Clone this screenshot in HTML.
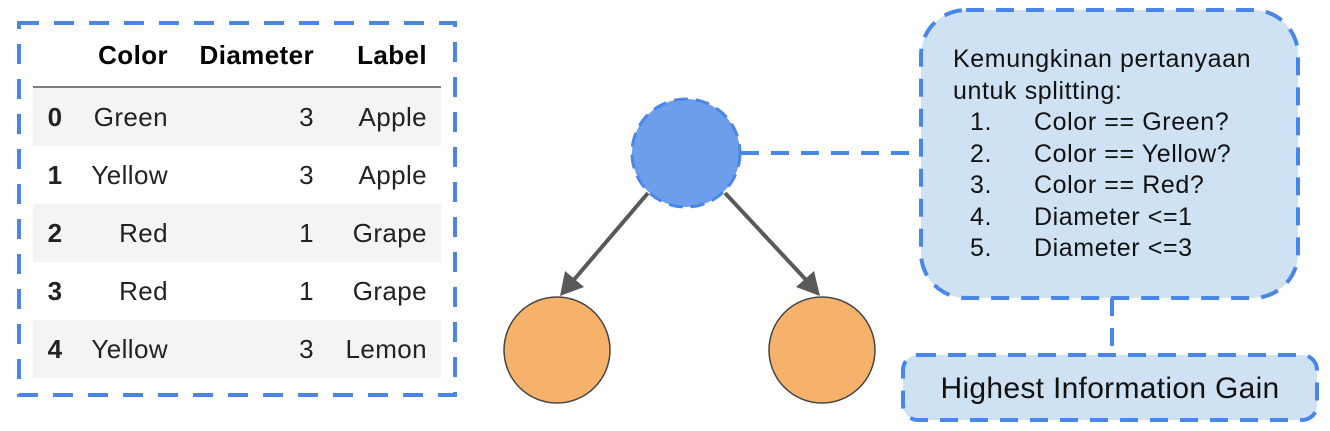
<!DOCTYPE html>
<html><head><style>
body{margin:0;width:1330px;height:431px;background:#fff;overflow:hidden;font-family:"Liberation Sans",sans-serif;}
.t{position:absolute;white-space:nowrap;color:#111;}
</style></head><body>
<svg width="1330" height="431" style="position:absolute;left:0;top:0">
<rect x="33" y="88" width="408" height="58" fill="#f4f4f4"/>
<rect x="33" y="204" width="408" height="58" fill="#f4f4f4"/>
<rect x="33" y="320" width="408" height="58" fill="#f4f4f4"/>
<line x1="33" y1="87" x2="441" y2="87" stroke="#555" stroke-width="1.5"/>
<rect x="19" y="23" width="436" height="372" fill="none" stroke="#4a86e8" stroke-width="4" stroke-dasharray="20,15"/>
<line x1="741" y1="153" x2="920" y2="153" stroke="#4a86e8" stroke-width="4" stroke-dasharray="18,12"/>
<rect x="921" y="10" width="377" height="288" rx="45" fill="#cfe2f3" stroke="#4a86e8" stroke-width="4" stroke-dasharray="18,12"/>
<line x1="1112" y1="298" x2="1112" y2="355" stroke="#4a86e8" stroke-width="4" stroke-dasharray="18,12"/>
<rect x="903" y="355" width="414" height="65" rx="15" fill="#cfe2f3" stroke="#4a86e8" stroke-width="4" stroke-dasharray="18,12"/>
<ellipse cx="686" cy="153" rx="54" ry="54" fill="#6d9eeb" stroke="#4a86e8" stroke-width="3" stroke-dasharray="14,8"/>
<ellipse cx="557" cy="350" rx="53" ry="53" fill="#f6b26b" stroke="#444" stroke-width="1.5"/>
<ellipse cx="822" cy="350" rx="53" ry="53" fill="#f6b26b" stroke="#444" stroke-width="1.5"/>
<line x1="648" y1="193" x2="572" y2="282" stroke="#595959" stroke-width="4"/>
<polygon points="560,296 565,271 584,287" fill="#595959"/>
<line x1="725" y1="193" x2="808" y2="282" stroke="#595959" stroke-width="4"/>
<polygon points="820,296 796,287 814,271" fill="#595959"/>
</svg>
<div style="position:absolute;left:33px;top:40px;width:408px;font-size:26px;letter-spacing:0.4px;">
<div style="display:flex;height:35px;font-weight:bold;"><span style="width:44px"></span><span style="width:91px;text-align:right">Color</span><span style="width:146px;text-align:right">Diameter</span><span style="width:113px;text-align:right">Label</span></div>
</div>
<div style="position:absolute;left:33px;top:100px;width:408px;font-size:26px;letter-spacing:0.4px;color:#222;line-height:34px;">
<div style="display:flex;height:58px"><b style="width:44px;text-align:center">0</b><span style="width:91px;text-align:right">Green</span><span style="width:146px;text-align:right">3</span><span style="width:113px;text-align:right">Apple</span></div>
<div style="display:flex;height:58px"><b style="width:44px;text-align:center">1</b><span style="width:91px;text-align:right">Yellow</span><span style="width:146px;text-align:right">3</span><span style="width:113px;text-align:right">Apple</span></div>
<div style="display:flex;height:58px"><b style="width:44px;text-align:center">2</b><span style="width:91px;text-align:right">Red</span><span style="width:146px;text-align:right">1</span><span style="width:113px;text-align:right">Grape</span></div>
<div style="display:flex;height:58px"><b style="width:44px;text-align:center">3</b><span style="width:91px;text-align:right">Red</span><span style="width:146px;text-align:right">1</span><span style="width:113px;text-align:right">Grape</span></div>
<div style="display:flex;height:58px"><b style="width:44px;text-align:center">4</b><span style="width:91px;text-align:right">Yellow</span><span style="width:146px;text-align:right">3</span><span style="width:113px;text-align:right">Lemon</span></div>
</div>
<div class="t" style="left:953px;top:44px;font-size:25px;letter-spacing:0.6px;line-height:31.5px;">
Kemungkinan pertanyaan<br>untuk splitting:<br>
<span style="display:inline-block;width:17px"></span><span style="display:inline-block;width:64px">1.</span>Color == Green?<br>
<span style="display:inline-block;width:17px"></span><span style="display:inline-block;width:64px">2.</span>Color == Yellow?<br>
<span style="display:inline-block;width:17px"></span><span style="display:inline-block;width:64px">3.</span>Color == Red?<br>
<span style="display:inline-block;width:17px"></span><span style="display:inline-block;width:64px">4.</span>Diameter &lt;=1<br>
<span style="display:inline-block;width:17px"></span><span style="display:inline-block;width:64px">5.</span>Diameter &lt;=3
</div>
<div class="t" style="left:903px;width:414px;text-align:center;top:372px;font-size:30px;letter-spacing:0.3px;">Highest Information Gain</div>
</body></html>
